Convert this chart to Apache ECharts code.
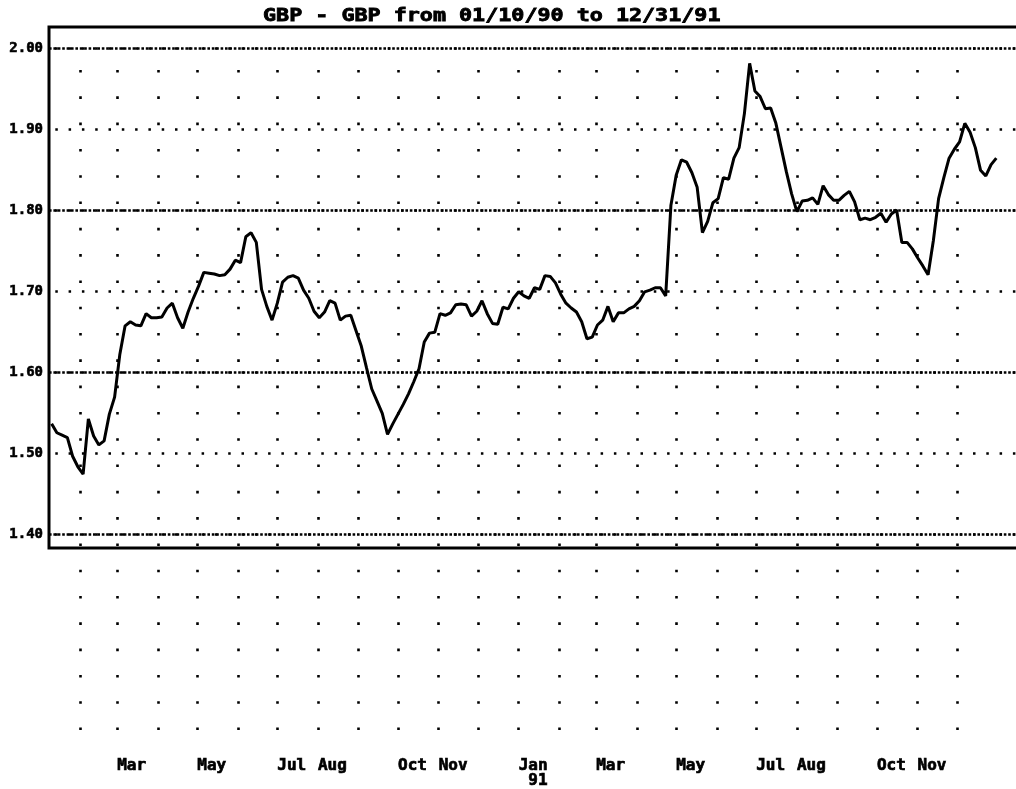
<!DOCTYPE html>
<html><head><meta charset="utf-8">
<script src="https://cdn.jsdelivr.net/npm/echarts@6/dist/echarts.min.js"></script>
<style>html,body{margin:0;padding:0;background:#fff}#c{width:1016px;height:789px}</style>
</head><body><div id="c"></div>
<script>
const titleText = 'GBP - GBP from 01/10/90 to 12/31/91';
const startDate = [1990, 1, 10];
const stepDays = 4;
const rates = [
1.536,1.525,1.522,1.519,1.496,1.483,1.474,1.542,1.521,1.510,
1.515,1.548,1.569,1.622,1.657,1.662,1.658,1.657,1.672,1.667,
1.667,1.668,1.679,1.685,1.667,1.654,1.674,1.691,1.706,1.723,
1.722,1.721,1.719,1.720,1.727,1.738,1.735,1.767,1.772,1.760,
1.702,1.681,1.664,1.685,1.711,1.717,1.719,1.716,1.701,1.691,
1.675,1.667,1.674,1.688,1.685,1.664,1.669,1.670,1.651,1.632,
1.605,1.579,1.564,1.549,1.523,1.536,1.548,1.560,1.573,1.588,
1.604,1.637,1.648,1.649,1.672,1.670,1.673,1.683,1.684,1.683,
1.669,1.675,1.688,1.672,1.660,1.659,1.680,1.678,1.691,1.699,
1.694,1.691,1.704,1.702,1.719,1.718,1.710,1.696,1.685,1.679,
1.674,1.662,1.641,1.643,1.658,1.664,1.681,1.662,1.673,1.673,
1.678,1.681,1.688,1.699,1.701,1.704,1.704,1.694,1.806,1.843,
1.862,1.859,1.846,1.828,1.772,1.786,1.809,1.814,1.840,1.838,
1.864,1.877,1.919,1.981,1.947,1.940,1.925,1.926,1.907,1.877,
1.847,1.820,1.798,1.811,1.812,1.815,1.807,1.830,1.819,1.812,
1.812,1.818,1.823,1.810,1.788,1.790,1.788,1.791,1.796,1.785,
1.795,1.800,1.760,1.760,1.752,1.741,1.731,1.720,1.762,1.814,
1.840,1.864,1.875,1.884,1.907,1.896,1.877,1.849,1.842,1.856,
1.864
];
const axisStart = [1990, 1, 8];
const axisEnd = [1992, 1, 15];
const yMin = 1.40, yMax = 2.00;
const monthStarts = [
[1990,2],[1990,3],[1990,4],[1990,5],[1990,6],[1990,7],[1990,8],[1990,9],[1990,10],[1990,11],[1990,12],
[1991,1],[1991,2],[1991,3],[1991,4],[1991,5],[1991,6],[1991,7],[1991,8],[1991,9],[1991,10],[1991,11],[1991,12]
];
const labelMonths = [[1990,3],[1990,5],[1990,7],[1990,8],[1990,10],[1990,11],[1991,1],[1991,3],[1991,5],[1991,7],[1991,8],[1991,10],[1991,11]];
const labelTexts = ['Mar','May','Jul','Aug','Oct','Nov','Jan\n 91','Mar','May','Jul','Aug','Oct','Nov'];

// x axis unit: days since axisStart
const DAY = 86400000;
const base = Date.UTC(axisStart[0], axisStart[1] - 1, axisStart[2]);
const dayOf = (y, m, d) => Math.round((Date.UTC(y, m - 1, d || 1) - base) / DAY);
const xMin = 0, xMax = dayOf(...axisEnd);
const x0 = dayOf(...startDate);
const seriesData = rates.map((v, i) => [x0 + stepDays * i, v]);
const monthDays = monthStarts.map(p => dayOf(p[0], p[1], 1));
const labelDays = labelMonths.map(p => dayOf(p[0], p[1], 1));
const labelMap = {};
labelDays.forEach((t, i) => { labelMap[t] = labelTexts[i]; });

const chart = echarts.init(document.getElementById('c'), null, {renderer: 'canvas'});
const mono = '"DejaVu Sans Mono", monospace';
chart.setOption({
  animation: false,
  backgroundColor: '#fff',
  grid: [
    {left: 49, right: 0, top: 48, height: 486, containLabel: false, outerBoundsMode: 'none'},
    {left: 49, right: 0, top: 70, height: 661, containLabel: false, outerBoundsMode: 'none'}
  ],
  xAxis: [
    {type: 'value', gridIndex: 0, min: xMin, max: xMax,
     axisLine: {show: false}, axisTick: {show: false}, axisLabel: {show: false}, splitLine: {show: false}},
    {type: 'value', gridIndex: 1, min: xMin, max: xMax,
     axisLine: {show: false},
     axisTick: {show: false, customValues: monthDays},
     splitLine: {show: true, lineStyle: {color: '#000', width: 2.6, type: [2.6, 23.7]}},
     axisLabel: {show: true, customValues: labelDays, formatter: v => labelMap[v] || '',
       align: 'left', verticalAlign: 'top', margin: 27, color: '#000',
       textBorderColor: '#000', textBorderWidth: 0.7,
       fontFamily: mono, fontWeight: 'bold', fontSize: 16, lineHeight: 15, hideOverlap: false}}
  ],
  yAxis: [
    {type: 'value', gridIndex: 0, position: 'left', min: yMin, max: yMax, interval: 0.2,
     axisLine: {show: false}, axisTick: {show: false}, axisLabel: {show: false},
     splitLine: {show: true, lineStyle: {color: '#000', width: 2.5, type: [2.6, 1.8]}}},
    {type: 'value', gridIndex: 0, position: 'left', min: yMin, max: yMax, interval: 0.1,
     axisLine: {show: false}, axisTick: {show: false},
     axisLabel: {show: true, formatter: v => v.toFixed(2), margin: 6, color: '#000',
       textBorderColor: '#000', textBorderWidth: 0.6,
       fontFamily: mono, fontWeight: 'bold', fontSize: 14, padding: [0, 0, 5, 0]},
     splitLine: {show: true, lineStyle: {color: '#000', width: 2.5, type: [2.5, 10.8], dashOffset: 7}}},
    {type: 'value', gridIndex: 1, min: 0, max: 1, show: false}
  ],
  series: [{
    type: 'line', xAxisIndex: 0, yAxisIndex: 1, data: seriesData,
    showSymbol: false, symbol: 'none',
    lineStyle: {color: '#000', width: 3}, z: 5
  }],
  graphic: [
    {type: 'text', x: 263, y: 8, scaleX: 1.277, z: 100,
     style: {text: titleText, font: 'bold 17px ' + mono, fill: '#000', stroke: '#000', lineWidth: 0.8,
       align: 'left', verticalAlign: 'top'}},
    {type: 'rect', z: 100, shape: {x: 49, y: 27, width: 1010, height: 521},
     style: {fill: 'none', stroke: '#000', lineWidth: 3}}
  ]
});
</script></body></html>
